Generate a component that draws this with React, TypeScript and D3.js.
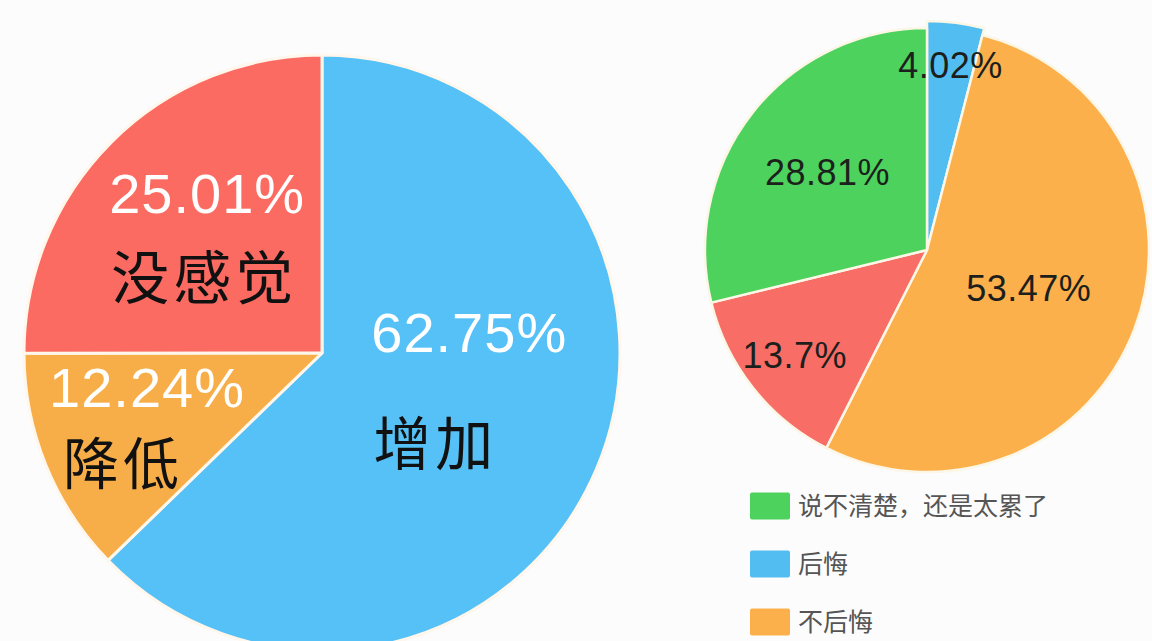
import * as d3 from "d3";
import { useEffect } from "react";

// left pie: 体力变化
const leftCategories = ["增加", "降低", "没感觉"];
const leftValues = [62.75, 12.24, 25.01];
const leftLabels = ["62.75%", "12.24%", "25.01%"];

// right pie: 是否后悔
const rightCategories = ["后悔", "不后悔", "其他", "说不清楚，还是太累了"];
const rightValues = [4.02, 53.47, 13.7, 28.81];
const rightLabels = ["4.02%", "53.47%", "13.7%", "28.81%"];

const legendItems = ["说不清楚，还是太累了", "后悔", "不后悔"];

const W = 1152;
const H = 641;

const leftColor = d3.scaleOrdinal<string, string>()
  .domain(leftCategories)
  .range(["#55c1f6", "#f8ae48", "#fc6b62"]);

const rightColor = d3.scaleOrdinal<string, string>()
  .domain(rightCategories)
  .range(["#52bdf0", "#fbb04c", "#f86d66", "#4dd25e"]);

const numFont = "'Liberation Sans', Arial, sans-serif";
const cjkFont = "'Noto Sans CJK SC', sans-serif";

interface Slice { cat: string; value: number; label: string }

const App = () => {
  useEffect(() => {
    document.body.style.margin = "0";
    document.body.style.background = "#fcfcfc";
  }, []);

  const pie = d3.pie<Slice>().sort(null).value(d => d.value);

  // ---- left
  const lc = { x: 322, y: 353 };
  const lr = 298;
  const leftData: Slice[] = leftCategories.map((c, i) => ({ cat: c, value: leftValues[i], label: leftLabels[i] }));
  const leftArcs = pie(leftData);
  const leftArc = d3.arc<d3.PieArcDatum<Slice>>().innerRadius(0).outerRadius(lr);
  // label tweaks per slice: radius factor, then [dx, dy] for percent and name lines
  const leftLayout = [
    { rf: 0.46, p: [21, -75], n: [-13, 38], fs: 58 },
    { rf: 0.63, p: [-1, -37], n: [-25, 40], fs: 56 },
    { rf: 0.54, p: [-1, -46], n: [-4, 39], fs: 58 },
  ];

  // ---- right
  const rc = { x: 927, y: 250 };
  const rr = 222;
  const rightData: Slice[] = rightCategories.map((c, i) => ({ cat: c, value: rightValues[i], label: rightLabels[i] }));
  const rightArcs = pie(rightData);
  const rightArc = d3.arc<d3.PieArcDatum<Slice>>().innerRadius(0)
    .outerRadius(d => (d.data.cat === "后悔" ? rr + 7 : rr));
  const rightRf = [0.84, 0.49, 0.76, 0.57];

  const polar = (a: number, r: number) => [Math.sin(a) * r, -Math.cos(a) * r];

  const legendY = d3.scalePoint<string>().domain(legendItems).range([506, 622]);

  return (
    <svg width={W} height={H} style={{ position: "absolute", left: 0, top: 0, background: "#fcfcfc" }}>
      <g transform={`translate(${lc.x},${lc.y})`}>
        {leftArcs.map(a => (
          <path key={a.data.cat} d={leftArc(a)!} fill={leftColor(a.data.cat)} stroke="#fff6ec" strokeWidth={3} strokeLinejoin="round" />
        ))}
        {leftArcs.map((a, i) => {
          const mid = (a.startAngle + a.endAngle) / 2;
          const L = leftLayout[i];
          const [x, y] = polar(mid, L.rf * lr);
          return (
            <g key={"l" + i}>
              <text x={x + L.p[0]} y={y + L.p[1]} dy="0.36em" textAnchor="middle" fill="#ffffff"
                fontFamily={numFont} fontSize={56} letterSpacing={1}>{a.data.label}</text>
              <text x={x + L.n[0]} y={y + L.n[1]} dy="0.36em" textAnchor="middle" fill="#111111"
                fontFamily={cjkFont} fontSize={L.fs} letterSpacing={4}>{a.data.cat}</text>
            </g>
          );
        })}
      </g>

      <g transform={`translate(${rc.x},${rc.y})`}>
        {rightArcs.map(a => (
          <path key={a.data.cat} d={rightArc(a)!} fill={rightColor(a.data.cat)} stroke="#fbf6e6" strokeWidth={2.5} strokeLinejoin="round" />
        ))}
        {rightArcs.map((a, i) => {
          const mid = (a.startAngle + a.endAngle) / 2;
          const [x, y] = polar(mid, rightRf[i] * rr);
          return (
            <text key={"r" + i} x={x} y={y} dy="0.36em" textAnchor="middle" fill="#1c1f1c"
              fontFamily={numFont} fontSize={36} letterSpacing={0.5}>{a.data.label}</text>
          );
        })}
      </g>

      <g>
        {legendItems.map(item => (
          <g key={item} transform={`translate(750,${legendY(item)})`}>
            <rect x={0} y={-13.5} width={40} height={27} rx={2} fill={rightColor(item)} />
            <text x={48} y={0} dy="0.36em" fill="#555555" fontFamily={cjkFont} fontSize={25}>{item}</text>
          </g>
        ))}
      </g>
    </svg>
  );
};

export default App;
